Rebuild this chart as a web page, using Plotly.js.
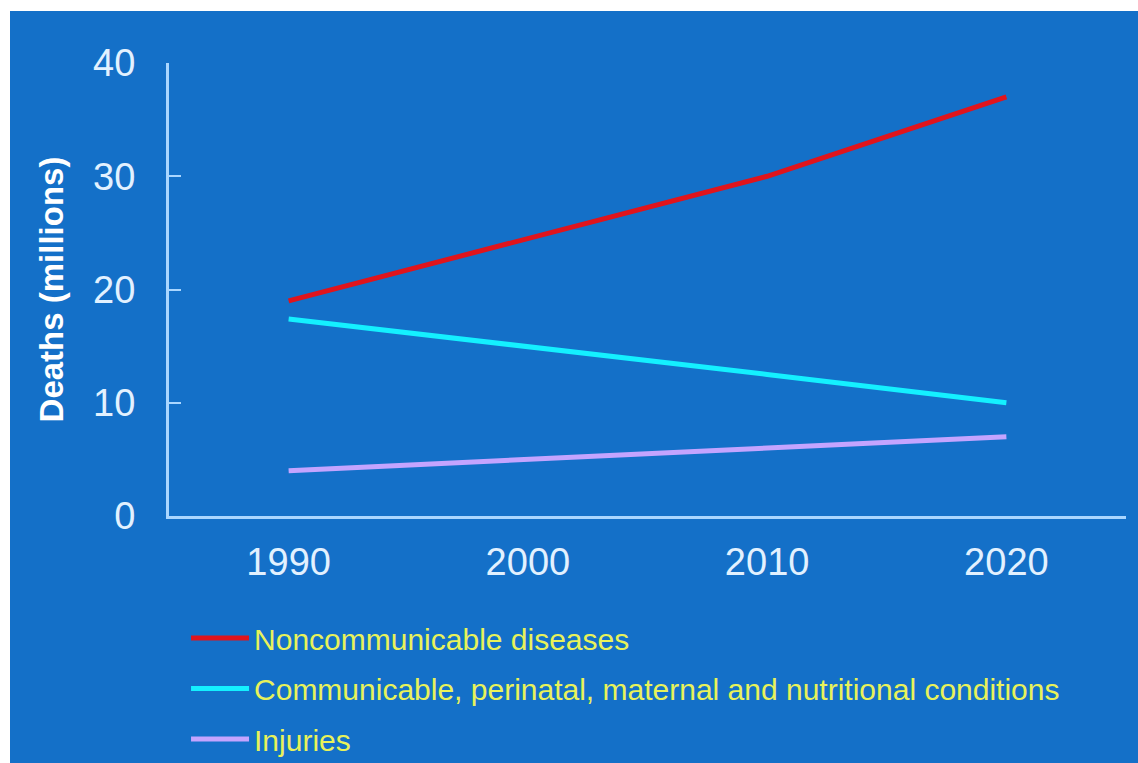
<!DOCTYPE html>
<html>
<head>
<meta charset="utf-8">
<script src="https://cdn.plot.ly/plotly-3.0.1.min.js"></script>
<style>
  html, body { margin: 0; padding: 0; background: #ffffff; }
  #chart { position: absolute; left: 10px; top: 11px; width: 1128px; height: 752px; }
</style>
</head>
<body>
<div id="chart"></div>
<script>
// Global deaths by broad cause group, 1990-2020 (millions)
const years = [1990, 2000, 2010, 2020];
const noncommunicable = [19, 24.5, 30, 37];
const communicable = [17.4, 15, 12.5, 10];
const injuries = [4, 5, 6, 7];

const seriesNames = [
  'Noncommunicable diseases',
  'Communicable, perinatal, maternal and nutritional conditions',
  'Injuries'
];
const seriesColors = ['#e0141c', '#14f0ff', '#c4a4ff'];
const seriesValues = [noncommunicable, communicable, injuries];

const xTicks = [1990, 2000, 2010, 2020];
const yTicks = [0, 10, 20, 30, 40];

const bg = '#1470c8';
const axisColor = '#aad6ff';
const tickText = '#e2f1ff';
const legendText = '#e8f25a';
const fontFamily = '"Liberation Sans", Arial, sans-serif';

const traces = seriesValues.map((vals, i) => ({
  type: 'scatter',
  mode: 'lines',
  x: years,
  y: vals,
  name: seriesNames[i],
  legendgroup: 'g' + i,
  line: { color: seriesColors[i], width: 5 },
  hoverinfo: 'skip'
}));

const layout = {
  width: 1128,
  height: 752,
  paper_bgcolor: bg,
  plot_bgcolor: bg,
  margin: { l: 159, r: 12, t: 52, b: 247, autoexpand: false },
  showlegend: true,
  legend: {
    x: 0.0178, xanchor: 'left',
    y: -0.212, yanchor: 'top',
    font: { family: fontFamily, size: 30, color: legendText },
    bgcolor: 'rgba(0,0,0,0)',
    tracegroupgap: 8.5,
    itemwidth: 58
  },
  xaxis: {
    range: [1985, 2025],
    tickvals: xTicks,
    ticktext: xTicks.map(String),
    showgrid: false,
    zeroline: false,
    showline: true,
    linecolor: axisColor,
    linewidth: 3,
    ticks: '',
    ticklabelstandoff: 10,
    tickfont: { family: fontFamily, size: 38, color: tickText }
  },
  yaxis: {
    range: [0, 40],
    tickvals: yTicks,
    ticktext: yTicks.map(String),
    showgrid: false,
    zeroline: false,
    showline: true,
    linecolor: axisColor,
    linewidth: 3,
    ticks: 'inside',
    ticklen: 12,
    tickwidth: 2,
    tickcolor: axisColor,
    ticklabelstandoff: 23,
    tickfont: { family: fontFamily, size: 38, color: tickText },
    title: {
      text: 'Deaths (millions)',
      standoff: 20,
      font: { family: fontFamily, size: 33, color: '#ffffff', weight: 'bold' }
    }
  }
};

Plotly.newPlot('chart', traces, layout, { displayModeBar: false, staticPlot: true });
</script>
</body>
</html>
